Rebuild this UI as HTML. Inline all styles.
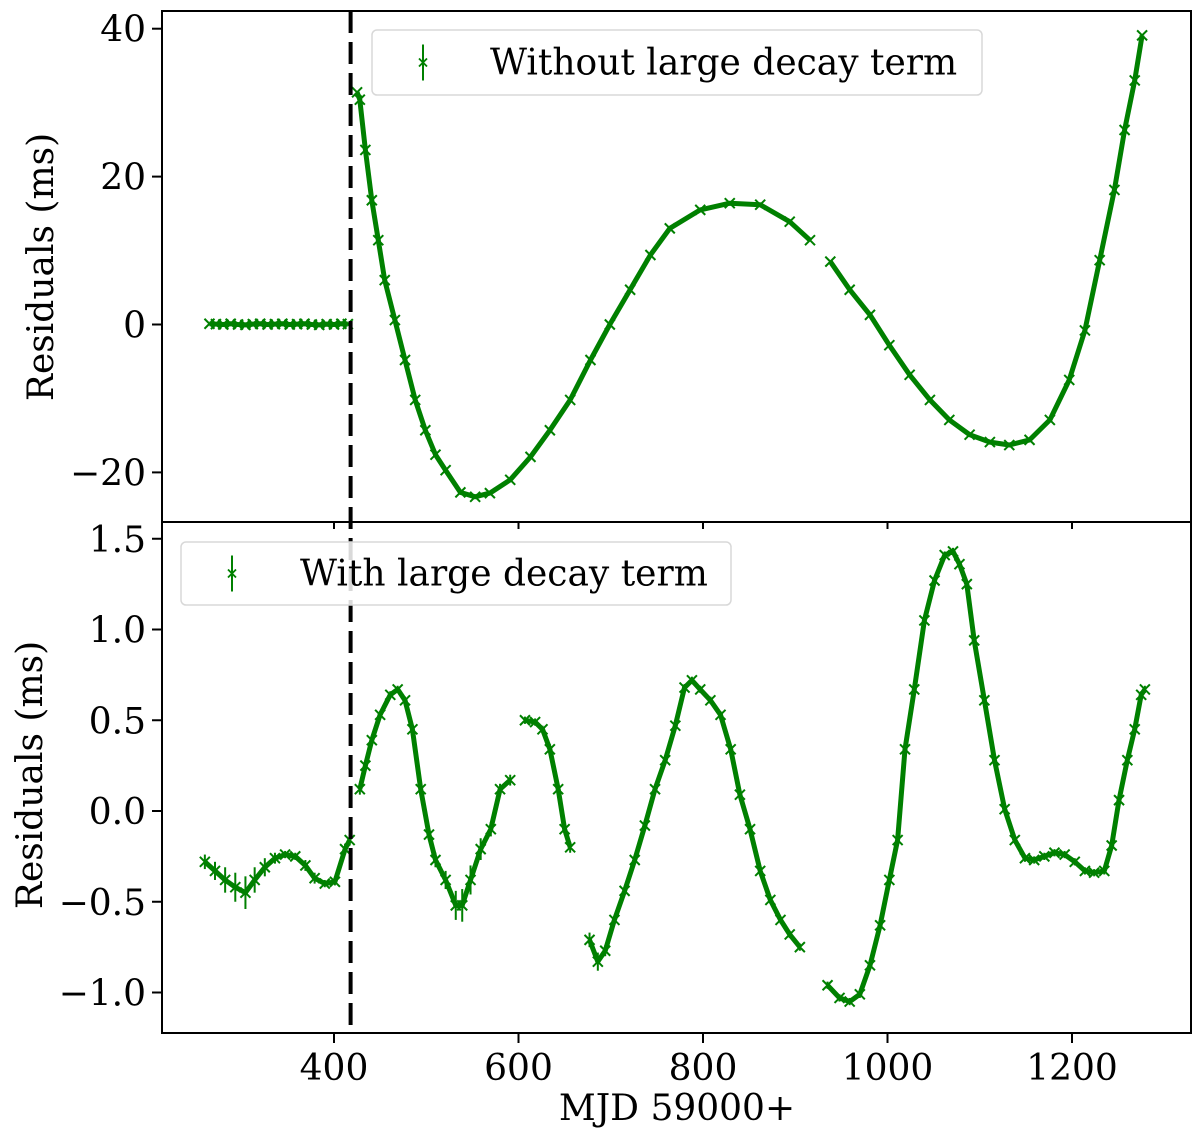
<!DOCTYPE html>
<html><head><meta charset="utf-8"><style>
html,body{margin:0;padding:0;background:#fff;}
svg text{font-family:"DejaVu Serif","Liberation Serif",serif;fill:#000;}
</style></head><body>
<svg id="chart" width="1200" height="1133" viewBox="0 0 1200 1133" xmlns="http://www.w3.org/2000/svg">
<g id="layer"></g>
</svg>
<script>
const topMJD=[265,272,280,288,296,304,312,320,328,336,344,352,360,368,376,384,392,400,408,415,
425,428,434,441,448,455,466,477,488,499,510,521,537,553,569,591,613,634,656,678,699,721,743,764,797,829,862,894,916,938,959,981,1002,1024,1046,1067,1089,1111,1132,1154,1176,1197,1214,1230,1246,1257,1268,1276];
const topRes=[0.1,0.05,0,0.1,0,-0.05,0.05,0.1,0,0.05,0.1,0,0.05,0.1,0,-0.05,0.05,0,0.1,0.05,
31.4,30.4,23.6,16.8,11.4,6,0.6,-4.8,-10.2,-14.3,-17.6,-19.7,-22.7,-23.3,-22.8,-21,-17.9,-14.3,-10.2,-4.8,0,4.7,9.4,13,15.5,16.4,16.2,13.9,11.4,8.5,4.7,1.3,-2.8,-6.8,-10.2,-12.9,-14.9,-15.9,-16.3,-15.6,-12.9,-7.5,-0.8,8.7,18.2,26.3,33,39.1];
const botMJD=[260,271,282,293,304,314,325,336,347,358,369,379,390,401,412,417,
428,434,441,450,461,469,477,485,494,503,510,521,532,539,548,559,570,580,591,
607,618,626,634,643,650,656,
677,686,694,704,715,726,737,748,759,770,780,788,797,808,819,830,840,851,862,873,884,894,905,
935,948,959,970,981,992,1002,1011,1019,1029,1040,1051,1062,1071,1078,1086,1094,1105,1116,1127,1138,1149,1159,1170,1181,1192,1203,1214,1224,1235,1243,1251,1260,1268,1275,1279];
const botRes=[-0.28,-0.33,-0.38,-0.42,-0.45,-0.38,-0.31,-0.26,-0.24,-0.25,-0.30,-0.37,-0.40,-0.39,-0.21,-0.16,
0.12,0.25,0.39,0.53,0.64,0.67,0.61,0.45,0.12,-0.13,-0.27,-0.38,-0.52,-0.52,-0.38,-0.21,-0.10,0.12,0.17,
0.50,0.49,0.45,0.34,0.12,-0.10,-0.20,
-0.71,-0.83,-0.77,-0.60,-0.44,-0.27,-0.08,0.12,0.28,0.47,0.68,0.72,0.67,0.61,0.53,0.34,0.09,-0.10,-0.33,-0.49,-0.60,-0.68,-0.75,
-0.96,-1.03,-1.05,-1.01,-0.85,-0.63,-0.38,-0.16,0.34,0.67,1.05,1.27,1.41,1.43,1.36,1.25,0.94,0.61,0.28,0.01,-0.16,-0.26,-0.27,-0.25,-0.23,-0.24,-0.28,-0.33,-0.34,-0.33,-0.19,0.06,0.28,0.45,0.64,0.67];
const botErr=[0.04,0.05,0.07,0.08,0.09,0.07,0.05,0.03,0.02,0.02,0.03,0.03,0.02,0.02,0.03,0.03,
0.03,0.02,0.02,0.02,0.02,0.02,0.02,0.02,0.02,0.03,0.04,0.05,0.08,0.09,0.08,0.06,0.04,0.03,0.03,
0.02,0.02,0.02,0.03,0.03,0.03,0.03,
0.04,0.05,0.03,0.02,0.02,0.02,0.02,0.02,0.02,0.02,0.02,0.02,0.02,0.02,0.02,0.02,0.02,0.02,0.02,0.02,0.02,0.02,0.02,
0.02,0.02,0.02,0.02,0.02,0.02,0.02,0.02,0.02,0.02,0.02,0.02,0.02,0.02,0.02,0.02,0.02,0.02,0.02,0.02,0.02,0.02,0.02,0.02,0.02,0.02,0.02,0.02,0.02,0.02,0.02,0.02,0.02,0.02,0.02,0.02];
const topBreaks=[418,925];
const botBreaks=[418,598,665,920];
const xTicks=[400,600,800,1000,1200];
const topTicks=[40,20,0,-20];
const topTickLabels=["40","20","0","\u221220"];
const botTicks=[1.5,1.0,0.5,0.0,-0.5,-1.0];
const botTickLabels=["1.5","1.0","0.5","0.0","\u22120.5","\u22121.0"];
const dashMJD=418;

const NS="http://www.w3.org/2000/svg";
const L=document.getElementById('layer');
const AX={l:162,r:1191,t1:11,b1:522,t2:522,b2:1033};
const FS=36;
const xs=v=>334+(v-400)*0.9225;
const yTop=v=>324.5-v*7.395;
const yBot=v=>811-v*181.5;
function mk(tag,attrs,parent){const e=document.createElementNS(NS,tag);for(const k in attrs)e.setAttribute(k,attrs[k]);(parent||L).appendChild(e);return e;}
const G='#008000';

function series(xsArr,ysArr,errs,yf,breaks,name){
  const g=mk('g',{});
  
  
  let d='';
  for(let i=0;i<xsArr.length;i++){
    const px=xs(xsArr[i]),py=yf(ysArr[i]);
    let brk=i===0;
    if(i>0){for(const b of breaks){if(xsArr[i-1]<b&&xsArr[i]>b)brk=true;}}
    d+=(brk?'M':'L')+px.toFixed(1)+' '+py.toFixed(1);
  }
  const ln=mk('path',{d:d,fill:'none',stroke:G,'stroke-width':5,'stroke-linejoin':'round'},g);
  
  
  for(let i=0;i<xsArr.length;i++){
    const px=xs(xsArr[i]),py=yf(ysArr[i]);
    if(errs){const e=errs[i];
      const eb=mk('line',{x1:px,x2:px,y1:yf(ysArr[i]+e),y2:yf(ysArr[i]-e),stroke:G,'stroke-width':2},g);
      
      }
    const s=5;
    const p=mk('path',{d:`M${px-s} ${py-s}L${px+s} ${py+s}M${px-s} ${py+s}L${px+s} ${py-s}`,stroke:G,'stroke-width':2},g);
    
    
  }
}

const f1=mk('rect',{x:AX.l,y:AX.t1,width:AX.r-AX.l,height:AX.b1-AX.t1,fill:'none',stroke:'#000','stroke-width':2});


const f2=mk('rect',{x:AX.l,y:AX.t2,width:AX.r-AX.l,height:AX.b2-AX.t2,fill:'none',stroke:'#000','stroke-width':2});



series(topMJD,topRes,null,yTop,topBreaks,'top-series');
series(botMJD,botRes,botErr,yBot,botBreaks,'bottom-series');

const dl=mk('line',{x1:xs(dashMJD),x2:xs(dashMJD),y1:AX.t1,y2:AX.b2,stroke:'#000','stroke-width':4,'stroke-dasharray':'22 9'});



topTicks.forEach((v,i)=>{
  const y=yTop(v);
  const t=mk('line',{x1:AX.l-10,x2:AX.l,y1:y,y2:y,stroke:'#000','stroke-width':2});
  
  
  const tx=mk('text',{x:AX.l-16,y:y+13,'text-anchor':'end','font-size':FS});
  tx.textContent=topTickLabels[i];
  
  
});
botTicks.forEach((v,i)=>{
  const y=yBot(v);
  const t=mk('line',{x1:AX.l-10,x2:AX.l,y1:y,y2:y,stroke:'#000','stroke-width':2});
  
  
  const tx=mk('text',{x:AX.l-16,y:y+13,'text-anchor':'end','font-size':FS});
  tx.textContent=botTickLabels[i];
  
  
});
xTicks.forEach(v=>{
  const x=xs(v);
  const t=mk('line',{x1:x,x2:x,y1:AX.b2,y2:AX.b2+10,stroke:'#000','stroke-width':2});
  
  
  const t2=mk('line',{x1:x,x2:x,y1:AX.b1,y2:AX.b1+7,stroke:'#000','stroke-width':2});
  
  
  const tx=mk('text',{x:x,y:AX.b2+47,'text-anchor':'middle','font-size':FS});
  tx.textContent=String(v);
  
  
});

const xt=mk('text',{x:677,y:1120,'text-anchor':'middle','font-size':FS});
xt.textContent='MJD 59000+';


const yt1=mk('text',{x:0,y:0,'text-anchor':'middle','font-size':FS,transform:'translate(53,267) rotate(-90)'});
yt1.textContent='Residuals (ms)';


const yt2=mk('text',{x:0,y:0,'text-anchor':'middle','font-size':FS,transform:'translate(42,775) rotate(-90)'});
yt2.textContent='Residuals (ms)';



function legend(x,y,w,h,mx,tx,label,name){
  const g=mk('g',{});
  
  
  mk('rect',{x:x,y:y,width:w,height:h,rx:5,fill:'#fff','fill-opacity':0.85,stroke:'#d8d8d8','stroke-width':1.5},g);
  const cy=y+h/2;
  mk('line',{x1:mx,x2:mx,y1:cy-18,y2:cy+18,stroke:G,'stroke-width':2},g);
  mk('path',{d:`M${mx-4} ${cy-4}L${mx+4} ${cy+4}M${mx-4} ${cy+4}L${mx+4} ${cy-4}`,stroke:G,'stroke-width':1.8},g);
  const t=mk('text',{x:tx,y:cy+12,'font-size':FS},g);
  t.textContent=label;
}
legend(372,30,610,65,423,490,'Without large decay term','top-legend');
legend(181,542,550,63,232,300,'With large decay term','bottom-legend');
</script>
</body></html>
